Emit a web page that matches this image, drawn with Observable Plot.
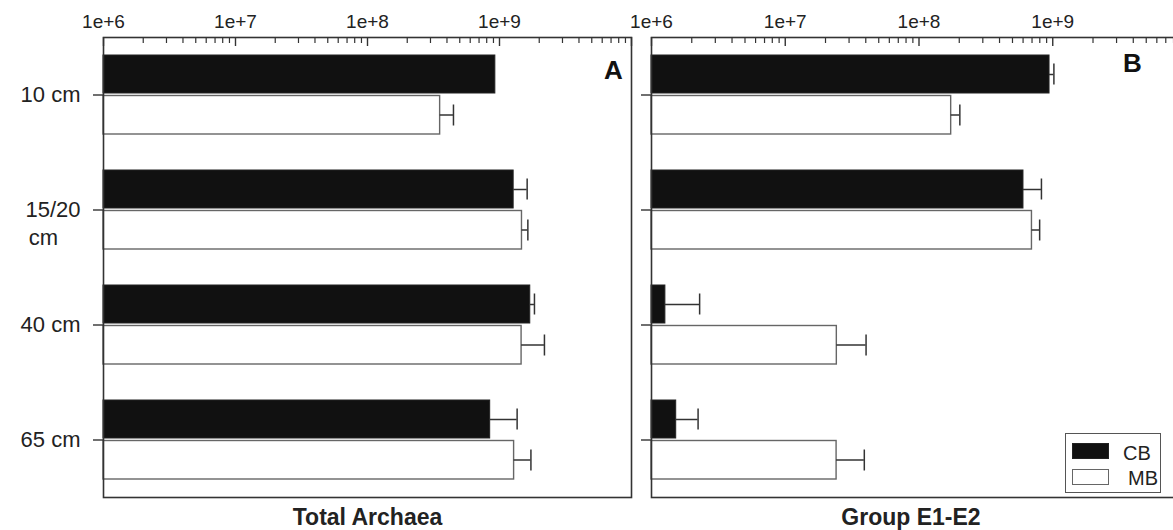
<!DOCTYPE html>
<html>
<head>
<meta charset="utf-8">
<script src="https://cdn.jsdelivr.net/npm/d3@7"></script>
<script src="https://cdn.jsdelivr.net/npm/@observablehq/plot@0.6"></script>
<style>
  body { margin: 0; background: #fff; }
  #chart { position: relative; width: 1173px; height: 530px; overflow: hidden;
           font-family: "Liberation Sans", Arial, Helvetica, sans-serif; background: #fff; }
  #chart svg { position: absolute; top: 0; }
  #legend { position: absolute; left: 1065px; top: 433px; width: 94px; height: 58px;
            border: 1.5px solid #555; background: #fff; box-sizing: content-box; }
  .sw { position: absolute; width: 37px; height: 16px; box-sizing: border-box; }
  .lab { position: absolute; font-size: 20px; line-height: 20px; color: #222; }
</style>
</head>
<body>
<div id="chart"></div>
<script>
// ---- data ----
const depths = ["10 cm", "15/20 cm", "40 cm", "65 cm"];
const depthLine1 = ["10 cm", "15/20", "40 cm", "65 cm"];
const depthLine2 = ["", "cm", "", ""];

const seriesNames = ["CB", "MB"];
const seriesFill = ["#111111", "#ffffff"];
const seriesStroke = ["#222222", "#666666"];

// Panel A: Total Archaea (copies per g), CB / MB with upper error bounds
const archaeaCB     = [9.3e8, 1.28e9, 1.71e9, 8.5e8];
const archaeaCBHigh = [null,  1.62e9, 1.84e9, 1.36e9];
const archaeaMB     = [3.55e8, 1.48e9, 1.47e9, 1.29e9];
const archaeaMBHigh = [4.48e8, 1.64e9, 2.19e9, 1.73e9];

// Panel B: Group E1-E2
const e12CB     = [9.46e8, 6.04e8, 1.27e6, 1.53e6];
const e12CBHigh = [1.02e9, 8.23e8, 2.29e6, 2.23e6];
const e12MB     = [1.74e8, 6.99e8, 2.43e7, 2.42e7];
const e12MBHigh = [2.02e8, 7.98e8, 4.02e7, 3.9e7];

const panelTitles = ["Total Archaea", "Group E1-E2"];
const panelLetters = ["A", "B"];

const xDomain = [1e6, 1e10];
const tickValues = [1e6, 1e7, 1e8, 1e9];
const tickLabels = ["1e+6", "1e+7", "1e+8", "1e+9"];
const decadeTicks = [1e6, 1e7, 1e8, 1e9, 1e10];

// ---- layout ----
const H = 530, MT = 37, MB = 33, FH = H - MT - MB;
const FONT = '"Liberation Sans", Arial, Helvetica, sans-serif';
const minorTicks = d3.scaleLog().domain(xDomain).ticks().filter(t => !decadeTicks.includes(t));

function rows(vals, highs, s) {
  return depths.map((d, i) => ({depth: d, series: s, value: vals[i], high: highs[i]}));
}

function panel({cb, cbHigh, mb, mbHigh, title, letter, width, marginLeft, marginRight, labels, letterDx, letterDy, titleDx}) {
  const cbRows = rows(cb, cbHigh, "CB");
  const mbRows = rows(mb, mbHigh, "MB");
  const marks = [
    Plot.barX(cbRows, {x1: () => xDomain[0], x2: "value", y: "depth", insetBottom: 41,
      fill: seriesFill[0], stroke: seriesStroke[0], strokeWidth: 1}),
    Plot.barX(mbRows, {x1: () => xDomain[0], x2: "value", y: "depth", insetTop: 40.5,
      fill: seriesFill[1], stroke: seriesStroke[1], strokeWidth: 1.4}),
    Plot.ruleY(cbRows.filter(d => d.high), {y: "depth", x1: "value", x2: "high", dy: -20.5, stroke: "#333", strokeWidth: 1.5}),
    Plot.ruleY(mbRows.filter(d => d.high), {y: "depth", x1: "value", x2: "high", dy: 20, stroke: "#333", strokeWidth: 1.5}),
    Plot.tickX(cbRows.filter(d => d.high), {x: "high", y: "depth", insetTop: 8.5, insetBottom: 49.5, stroke: "#333", strokeWidth: 1.5}),
    Plot.tickX(mbRows.filter(d => d.high), {x: "high", y: "depth", insetTop: 49.5, insetBottom: 8.5, stroke: "#333", strokeWidth: 1.5}),
    Plot.frame({stroke: "#333", strokeWidth: 1.6}),
    Plot.tickX(minorTicks, {x: d => d, insetBottom: FH - 6, stroke: "#333", strokeWidth: 1.2}),
    Plot.tickX(decadeTicks, {x: d => d, insetBottom: FH - 9, stroke: "#333", strokeWidth: 1.4}),
    Plot.axisX(tickValues, {anchor: "top", tickSize: 0, tickPadding: 10, fontSize: 19, fill: "#222",
      tickFormat: d => tickLabels[tickValues.indexOf(d)], label: null}),
    Plot.axisY({anchor: "left", tickSize: 10, tickPadding: 13, fontSize: 22, fill: "#222", stroke: "#333", strokeWidth: 1.4,
      tickFormat: d => labels ? depthLine1[depths.indexOf(d)] : "", label: null}),
    Plot.text([letter], {text: d => d, frameAnchor: "top-right", dx: letterDx, dy: letterDy,
      textAnchor: "middle", lineAnchor: "middle", fontSize: 26, fontWeight: "bold", fill: "#111"}),
    Plot.text([title], {text: d => d, frameAnchor: "bottom", dx: titleDx, dy: 20,
      textAnchor: "middle", lineAnchor: "middle", fontSize: 23, fontWeight: "bold", fill: "#222"})
  ];
  if (labels) {
    marks.push(Plot.text(depths.filter((d, i) => depthLine2[i]), {
      y: d => d, text: d => depthLine2[depths.indexOf(d)], frameAnchor: "left", dx: -60, dy: 28,
      textAnchor: "middle", lineAnchor: "middle", fontSize: 22, fill: "#222"}));
  }
  return Plot.plot({
    width, height: H, marginTop: MT, marginBottom: MB, marginLeft, marginRight,
    style: {fontFamily: FONT, background: "transparent", color: "#222", overflow: "visible"},
    x: {type: "log", domain: xDomain, axis: null},
    y: {type: "band", domain: depths, paddingInner: 0.317, paddingOuter: 0.146, align: 0.5, axis: null},
    marks
  });
}

const chart = document.getElementById("chart");
const a = panel({cb: archaeaCB, cbHigh: archaeaCBHigh, mb: archaeaMB, mbHigh: archaeaMBHigh,
  title: panelTitles[0], letter: panelLetters[0], width: 640, marginLeft: 103, marginRight: 9,
  labels: true, letterDx: -18, letterDy: 33, titleDx: 0});
a.style.left = "0px";
chart.appendChild(a);

const b = panel({cb: e12CB, cbHigh: e12CBHigh, mb: e12MB, mbHigh: e12MBHigh,
  title: panelTitles[1], letter: panelLetters[1], width: 560, marginLeft: 11, marginRight: 14,
  labels: false, letterDx: -54, letterDy: 26, titleDx: -8});
b.style.left = "640px";
chart.appendChild(b);

// legend
const legend = document.createElement("div");
legend.id = "legend";
seriesNames.forEach((s, i) => {
  const sw = document.createElement("div");
  sw.className = "sw";
  sw.style.left = "6px";
  sw.style.top = (9 + i * 26) + "px";
  sw.style.background = seriesFill[i];
  sw.style.border = "1.5px solid " + seriesStroke[i];
  legend.appendChild(sw);
  const lb = document.createElement("div");
  lb.className = "lab";
  lb.textContent = s;
  lb.style.left = (57 + i * 5) + "px";
  lb.style.top = (9 + i * 25) + "px";
  legend.appendChild(lb);
});
chart.appendChild(legend);
</script>
</body>
</html>
